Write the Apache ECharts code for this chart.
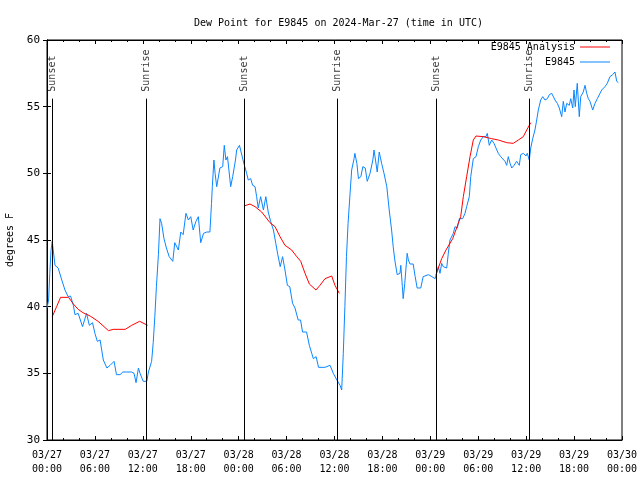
<!DOCTYPE html>
<html><head><meta charset="utf-8">
<script src="https://cdn.jsdelivr.net/npm/echarts@6/dist/echarts.min.js"></script>
<style>html,body{margin:0;padding:0;background:#fff}#c{width:640px;height:480px}</style>
</head><body><div id="c"></div>
<script>
// hours since 2024-03-27 00:00 UTC
var blueHours = [0.0,0.2,0.35,0.5,0.65,1.0,1.4,1.85,2.25,2.65,2.95,3.3,3.5,3.9,4.45,4.95,5.3,5.7,6.0,6.3,6.65,6.85,7.05,7.5,7.9,8.4,8.7,9.15,9.5,10.0,10.6,10.9,11.15,11.45,11.65,12.05,12.5,12.7,13.1,13.3,13.5,13.7,13.95,14.15,14.35,14.65,14.95,15.3,15.75,16.0,16.45,16.75,17.05,17.4,17.7,18.0,18.3,18.65,18.95,19.25,19.6,20.0,20.4,20.6,20.7,20.9,21.05,21.25,21.65,22.0,22.2,22.4,22.6,23.0,23.25,23.6,23.75,24.1,24.25,24.65,25.0,25.2,25.5,25.75,26.05,26.25,26.45,26.75,27.1,27.4,27.7,28.0,28.35,28.65,28.9,29.2,29.5,29.8,30.1,30.4,30.75,31.05,31.45,31.75,32.0,32.5,32.85,33.15,33.35,33.7,34.0,34.8,35.45,35.85,36.3,36.7,36.9,37.1,37.3,37.5,37.7,37.95,38.15,38.45,38.55,38.8,39.0,39.3,39.55,39.85,40.1,40.45,40.8,40.95,41.15,41.35,41.6,41.9,42.2,42.55,42.85,43.15,43.35,43.55,43.85,44.2,44.3,44.5,44.6,44.8,45.1,45.25,45.45,45.85,46.1,46.35,46.8,47.1,47.75,48.2,48.6,48.71,49.0,49.21,49.42,49.62,49.84,50.05,50.25,50.46,50.88,51.09,51.38,51.63,52.05,52.34,52.55,52.88,53.06,53.38,53.72,54.01,54.31,54.63,54.97,55.13,55.38,55.68,55.97,56.22,56.51,56.81,57.06,57.35,57.56,57.76,57.98,58.19,58.48,58.81,59.14,59.32,59.64,59.98,60.14,60.39,60.57,60.82,61.1,61.32,61.52,61.82,62.07,62.36,62.65,62.9,63.2,63.4,63.61,63.9,64.15,64.45,64.65,64.86,65.08,65.4,65.58,65.83,65.99,66.15,66.4,66.65,66.83,67.15,67.37,67.58,67.78,67.99,68.33,68.62,68.91,69.25,69.46,69.66,69.87,70.16,70.49,70.83,71.12,71.34,71.54];
var blueValues = [39.9,40.5,42.5,44.2,44.9,43.1,42.9,42.0,41.25,40.75,40.8,40.1,39.4,39.5,38.5,39.5,38.6,38.8,38.0,37.4,37.5,36.75,36.0,35.4,35.6,35.9,34.9,34.9,35.1,35.1,35.1,35.0,34.3,35.4,35.0,34.4,34.4,35.1,35.9,37.3,39.25,41.5,43.9,46.6,46.25,45.1,44.4,43.75,43.4,44.8,44.25,45.6,45.4,47.0,46.5,46.75,45.75,46.4,46.75,44.8,45.5,45.6,45.6,47.75,49.0,51.0,50.0,49.0,50.4,50.5,52.1,51.0,51.25,49.0,49.75,51.0,51.75,52.1,52.1,50.75,50.0,49.5,49.6,49.1,49.0,48.25,47.4,48.25,47.25,48.25,47.1,46.4,45.75,44.75,43.9,43.0,43.75,42.75,41.6,41.5,40.25,39.9,39.0,39.0,38.1,38.1,37.1,36.5,36.1,36.25,35.45,35.45,35.6,35.0,34.5,34.1,33.75,36.5,40.0,43.75,46.25,48.5,50.25,51.1,51.5,50.75,49.6,49.75,50.5,50.4,49.4,50.0,51.0,51.75,51.75,50.1,51.6,50.75,50.0,49.0,47.25,45.75,44.5,43.5,42.4,42.5,43.1,41.5,40.6,41.75,44.0,43.5,43.2,43.2,42.25,41.4,41.4,42.25,42.4,42.25,42.1,42.2,43.0,42.5,43.25,43.0,43.1,42.9,44.0,45.0,45.5,46.0,45.9,46.6,46.6,47.0,47.5,48.25,49.75,51.1,51.25,52.0,52.5,52.75,52.75,53.0,52.1,52.5,52.25,51.9,51.5,51.25,51.4,50.9,50.6,51.25,50.75,50.4,50.6,50.9,50.6,51.4,51.5,51.3,51.5,51.0,51.9,52.6,53.25,54.0,54.75,55.5,55.75,55.5,55.6,55.9,56.0,56.1,55.5,55.25,54.9,54.25,55.4,54.6,55.25,55.1,55.6,54.9,56.25,55.0,56.75,54.25,55.75,56.1,56.6,56.0,55.6,55.4,54.75,55.25,55.6,56.0,56.25,56.1,56.5,56.75,57.25,57.4,57.6,56.9,56.8];

var redHours = [0.66,1.2,1.7,2.7,3.3,3.9,4.5,5.4,6.4,7.7,8.3,9.8,10.6,11.6,12.6, 18,
  24.67,25.42,26.05,26.88,27.92,28.55,29.18,29.8,30.64,31.27,31.77,32.31,32.85,33.68,34.18,34.81,35.65,36.06,36.6, 42,
  48.71,49.0,49.42,49.96,50.8,51.38,51.8,52.13,52.55,52.97,53.38,53.72,54.63,55.68,56.51,57.56,58.39,59.02,59.64,60.07,60.57];
var redValues = [39.25,40.0,40.7,40.7,40.2,39.8,39.55,39.3,38.9,38.2,38.3,38.3,38.6,38.9,38.6, '-',
  47.55,47.7,47.5,47.1,46.3,46.0,45.25,44.6,44.25,43.75,43.4,42.5,41.7,41.25,41.6,42.1,42.3,41.6,41.0, '-',
  42.4,42.9,43.6,44.25,45.1,46.05,46.75,48.25,49.75,51.25,52.5,52.8,52.75,52.6,52.5,52.3,52.25,52.5,52.75,53.25,53.8];

var sunHours = [0.66, 12.44, 24.7, 36.35, 48.71, 60.39];
var sunLabels = ['Sunset','Sunrise','Sunset','Sunrise','Sunset','Sunrise'];
var sunLineTop = 55.6;

var xTickLabels = ['03/27\n00:00','03/27\n06:00','03/27\n12:00','03/27\n18:00','03/28\n00:00','03/28\n06:00','03/28\n12:00','03/28\n18:00','03/29\n00:00','03/29\n06:00','03/29\n12:00','03/29\n18:00','03/30\n00:00'];

var FONT = 'DejaVu Sans Mono';
var chart = echarts.init(document.getElementById('c'), null, {renderer:'canvas'});

function pairs(xs, ys){ return xs.map(function(x,i){ return [x, ys[i]]; }); }

var sunMarkData = sunHours.map(function(h){ return [{coord:[h,30]},{coord:[h,sunLineTop]}]; });
var sunLabelData = sunHours.map(function(h,i){ return {value:[h,sunLineTop], name:sunLabels[i]}; });

var xAxisBase = {
  type:'value', min:0, max:72, interval:6,
  axisLine:{show:true, lineStyle:{color:'#000', width:1}},
  axisTick:{show:true, inside:true, length:4, lineStyle:{color:'#000'}},
  minorTick:{show:true, splitNumber:3, length:2, lineStyle:{color:'#000'}},
  splitLine:{show:false}
};

chart.setOption({
  animation:false,
  backgroundColor:'#fff',
  title:{text:'Dew Point for E9845 on 2024-Mar-27 (time in UTC)', left:189, top:13,
    textStyle:{fontFamily:FONT, fontSize:10, fontWeight:'normal', color:'#000'}},
  legend:[
    {data:['E9845 Analysis'], right:30, top:42, padding:0, orient:'vertical', align:'right', icon:'rect', itemWidth:30, itemHeight:1, itemGap:4,
      textStyle:{fontFamily:FONT, fontSize:10, color:'#000'}},
    {data:['E9845'], right:30, top:57, padding:0, orient:'vertical', align:'right', icon:'rect', itemWidth:30, itemHeight:1, itemGap:4,
      textStyle:{fontFamily:FONT, fontSize:10, color:'#000'}}
  ],
  grid:{left:47, right:18, top:40, bottom:40, show:true, borderColor:'#000', borderWidth:1, containLabel:false, outerBoundsMode:'none'},
  xAxis:[
    Object.assign({}, xAxisBase, {position:'bottom',
      axisLabel:{show:true, margin:8, fontFamily:FONT, fontSize:10, color:'#000', lineHeight:14,
        formatter:function(v){ return xTickLabels[Math.round(v/6)] || ''; }}}),
    Object.assign({}, xAxisBase, {position:'top', axisLabel:{show:false}})
  ],
  yAxis:[
    {type:'value', min:30, max:60, interval:5, position:'left',
      name:'degrees F', nameLocation:'middle', nameGap:30, nameRotate:90,
      nameTextStyle:{fontFamily:FONT, fontSize:10, color:'#000'},
      axisLine:{show:true, lineStyle:{color:'#000'}},
      axisTick:{show:true, inside:true, length:4, lineStyle:{color:'#000'}},
      axisLabel:{margin:7, fontFamily:FONT, fontSize:11, color:'#000'},
      splitLine:{show:false}},
    {type:'value', min:30, max:60, interval:5, position:'right',
      axisLine:{show:true, lineStyle:{color:'#000'}},
      axisTick:{show:true, inside:true, length:4, lineStyle:{color:'#000'}},
      axisLabel:{show:false}, splitLine:{show:false}}
  ],
  series:[
    {name:'E9845 Analysis', type:'line', data:pairs(redHours, redValues), showSymbol:false, symbol:'none',
      connectNulls:false, lineStyle:{color:'#ff0000', width:1}, itemStyle:{color:'#ff0000'}, z:4},
    {name:'E9845', type:'line', data:pairs(blueHours, blueValues), showSymbol:false, symbol:'none',
      lineStyle:{color:'#0a86ff', width:1}, itemStyle:{color:'#0a86ff'}, z:3,
      markLine:{silent:true, symbol:'none', animation:false, label:{show:false},
        lineStyle:{color:'#000', width:1, type:'solid'}, data:sunMarkData}},
    {name:'sun', type:'scatter', data:sunLabelData, symbolSize:0, silent:true,
      label:{show:true, position:'top', distance:7, rotate:90, align:'left', verticalAlign:'middle',
        fontFamily:FONT, fontSize:10, color:'#000', formatter:function(p){ return p.name; }}}
  ]
});
</script></body></html>
